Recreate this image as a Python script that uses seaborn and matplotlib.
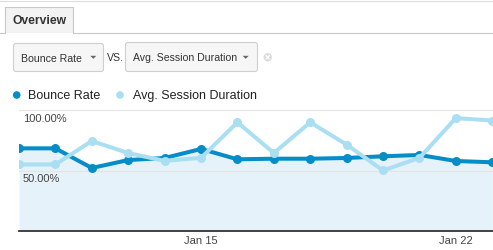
import matplotlib
matplotlib.use("Agg")
import matplotlib.pyplot as plt
import seaborn as sns
import pandas as pd
from matplotlib.patches import FancyBboxPatch, Rectangle, Circle, Polygon

# ---------------- data ----------------
days = ["Jan 10", "Jan 11", "Jan 12", "Jan 13", "Jan 14", "Jan 15", "Jan 16",
        "Jan 17", "Jan 18", "Jan 19", "Jan 20", "Jan 21", "Jan 22", "Jan 23"]
bounce_rate = [68.4, 68.4, 52.1, 58.7, 60.4, 67.9, 59.3,
               59.8, 59.8, 60.4, 61.8, 62.9, 57.9, 56.8]          # percent
avg_session = [110, 110, 149, 129, 116, 121, 180,
               129, 180, 143, 100, 121, 187, 183]                # seconds
x_tick_days = ["Jan 15", "Jan 22"]
y_ticks = [50, 100]
y_tick_labels = ["50.00%", "100.00%"]
series_names = ["Bounce Rate", "Avg. Session Duration"]

DARK = "#058dc7"
LIGHT = "#aadff3"
FILL = "#e6f2f9"

sns.set_style("white")
plt.rcParams["font.family"] = ["Liberation Sans", "DejaVu Sans"]

W, H = 493, 251
fig = plt.figure(figsize=(W / 100, H / 100), dpi=100)

# ---------------- UI layer (pixel coordinates) ----------------
ui = fig.add_axes([0, 0, 1, 1])
ui.set_xlim(0, W)
ui.set_ylim(H, 0)
ui.axis("off")

ui.plot([0, W], [1.5, 1.5], color="#dddddd", lw=0.8)
# tab
ui.add_patch(Rectangle((4.5, 7.5), 68, 26, fc="#f3f3f3", ec="none"))
ui.plot([4.5, 4.5, 72.5, 72.5], [33.5, 7.5, 7.5, 33.5], color="#c8c8c8", lw=0.8)
ui.plot([0, 4.5], [33.5, 33.5], color="#c8c8c8", lw=0.8)
ui.plot([72.5, W], [33.5, 33.5], color="#c8c8c8", lw=0.8)
ui.text(12.3, 21, "Overview", fontsize=8.7, fontweight="bold", color="#333333",
        va="center", ha="left")

# dropdowns
def dropdown(x0, x1, y0, y1, label, arrow_x):
    ui.add_patch(FancyBboxPatch((x0, y0), x1 - x0, y1 - y0,
                                boxstyle="round,pad=0,rounding_size=2.5",
                                fc="#f6f6f6", ec="#cfcfcf", lw=0.8))
    ui.text(x0 + 7.2, (y0 + y1) / 2 + 0.3, label, fontsize=7.6, color="#333333",
            va="center", ha="left")
    ui.add_patch(Polygon([[arrow_x - 3, 56.8], [arrow_x + 3, 56.8], [arrow_x, 59.8]],
                         closed=True, fc="#666666", ec="none"))

dropdown(13.5, 103.5, 44.5, 72.5, series_names[0], 93.3)
ui.text(106.7, 57.8, "VS.", fontsize=7.6, color="#333333", va="center", ha="left")
dropdown(125.5, 257.5, 43.5, 72.5, series_names[1], 245.7)
ui.add_patch(Circle((267.7, 58.3), 4.2, fc="#dcdcdc", ec="none"))
ui.plot([265.9, 269.5], [56.5, 60.1], color="white", lw=0.8)
ui.plot([265.9, 269.5], [60.1, 56.5], color="white", lw=0.8)

# legend
ui.add_patch(Circle((16.7, 96), 3.8, fc=DARK, ec="none"))
ui.text(28.3, 96.3, series_names[0], fontsize=9, color="#222222", va="center", ha="left")
ui.add_patch(Circle((120, 96), 3.8, fc=LIGHT, ec="none"))
ui.text(132.7, 96.3, series_names[1], fontsize=9, color="#222222", va="center", ha="left")

# ---------------- chart ----------------
left, right, top, bottom = 19, W, 111.3, 231.7
ax = fig.add_axes([left / W, (H - bottom) / H, (right - left) / W, (bottom - top) / H])
ax.patch.set_alpha(0)

df = pd.DataFrame({"pos": range(len(days)), "day": days,
                   "bounce": bounce_rate, "session": avg_session})

ax.fill_between(df["pos"], 0, df["bounce"], color=FILL, lw=0, zorder=1)
for v in y_ticks:
    ax.axhline(v, color="#e4e4e4", lw=0.8, zorder=1.5, clip_on=False)

sns.lineplot(data=df, x="pos", y="bounce", ax=ax, color=DARK, lw=2.9,
             marker="o", markersize=6.5, markeredgewidth=0, zorder=3)

ax2 = ax.twinx()
sns.lineplot(data=df, x="pos", y="session", ax=ax2, color=LIGHT, lw=2.9,
             marker="o", markersize=6.5, markeredgewidth=0, zorder=3)
ax2.set_ylim(0, 200)
ax2.set_yticks([])
ax2.set_ylabel("")
for s in ax2.spines.values():
    s.set_visible(False)

ax.set_xlim(0, len(days) - 1 + 0.02)
ax.set_ylim(0, 100)
ax.set_xlabel("")
ax.set_ylabel("")
ax.set_yticks([])
tick_pos = [days.index(d) for d in x_tick_days]
ax.set_xticks(tick_pos, x_tick_days)
ax.tick_params(axis="x", length=0, pad=3.2, labelsize=8, labelcolor="#444444")
for name, s in ax.spines.items():
    s.set_visible(name == "bottom")
ax.spines["bottom"].set_color("#333333")
ax.spines["bottom"].set_linewidth(1.3)
ax.spines["bottom"].set_zorder(5)

for v, lbl in zip(y_ticks, y_tick_labels):
    ax.annotate(lbl, xy=(0, v), xycoords=("axes fraction", "data"),
                xytext=(3.6 * 0.72, -8.0 * 0.72), textcoords="offset points",
                fontsize=8, color="#444444", ha="left", va="center", zorder=6)

fig.savefig("out.png", dpi=100)
